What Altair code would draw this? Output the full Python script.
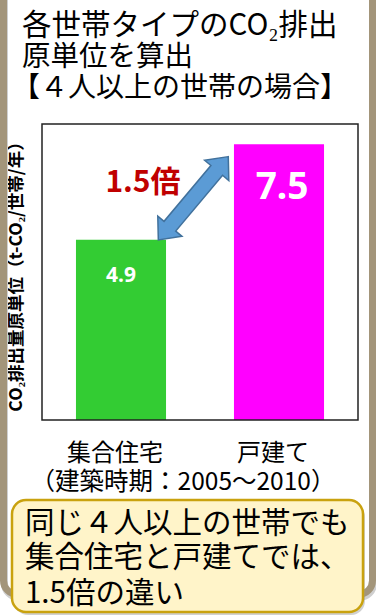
import altair as alt
import pandas as pd

# ---- data -------------------------------------------------------------
categories = ["集合住宅", "戸建て"]
values = [4.9, 7.5]
period_label = "（建築時期：2005～2010）"
title_lines = ["各世帯タイプのCO₂排出", "原単位を算出"]
subtitle_line = "【４人以上の世帯の場合】"
y_title = "CO₂排出量原単位（t-CO₂/世帯/年）"

ratio = values[1] / values[0]
ratio_label = f"{ratio:.1f}倍"
note_lines = ["同じ４人以上の世帯でも", "集合住宅と戸建てでは、", f"{ratio_label}の違い"]

# ---- styling ----------------------------------------------------------
W, H = 316, 296
FONT = "Noto Sans CJK JP"
BAR_COLORS = ["#33CC33", "#FF00FF"]
BEIGE = "#A3957A"
ARROW_PATH = ("M1,0 L0.67,-0.29 L0.67,-0.14 L-0.67,-0.14 L-0.67,-0.29 L-1,0 "
              "L-0.67,0.29 L-0.67,0.14 L0.67,0.14 L0.67,0.29 Z")

df = pd.DataFrame({"category": categories, "value": values})
df["label"] = [f"{v:.1f}" for v in values]

x_enc = alt.X(
    "category:N",
    sort=categories,
    scale=alt.Scale(paddingInner=0.43, paddingOuter=0.215),
    axis=alt.Axis(
        labelAngle=0, labelFont=FONT, labelFontSize=24, labelColor="#000",
        labelBaseline="alphabetic", labelPadding=40, labelOffset=-6,
        ticks=False, tickSize=0, domain=False, grid=False,
        title=period_label, titleFont=FONT, titleFontSize=24.5,
        titleFontWeight="normal", titleColor="#000",
        titleBaseline="alphabetic", titleAlign="center",
        titleX=140.5, titleY=69,
    ),
)
y_enc = alt.Y(
    "value:Q",
    scale=alt.Scale(domain=[0, 8.05], nice=False, zero=True),
    axis=alt.Axis(
        labels=False, ticks=False, domain=False, grid=False,
        title=y_title, titleFont=FONT, titleFontSize=17.5,
        titleFontWeight="bold", titleColor="#000", titlePadding=17,
    ),
)

base = alt.Chart(df)


def deco():
    return alt.Chart(pd.DataFrame({"d": [0]}))


def text_line(text, xv, yv, size, **kw):
    return deco().mark_text(
        text=text, align="left", baseline="alphabetic", font=FONT,
        fontSize=size, color="#000", **kw
    ).encode(x=alt.value(xv), y=alt.value(yv))


# outer rounded panel
panel_shadow = deco().mark_rect(
    fillOpacity=0, stroke="#cfcfcf", strokeWidth=7, cornerRadius=14
).encode(x=alt.value(-37.5), x2=alt.value(331.5), y=alt.value(-150), y2=alt.value(473.5))
panel = deco().mark_rect(
    fillOpacity=0, stroke=BEIGE, strokeWidth=7, cornerRadius=14
).encode(x=alt.value(-38.5), x2=alt.value(330.5), y=alt.value(-150), y2=alt.value(470.5))

bars = base.mark_bar().encode(
    x=x_enc,
    y=y_enc,
    color=alt.Color("category:N", sort=categories,
                    scale=alt.Scale(domain=categories, range=BAR_COLORS), legend=None),
)

plot_frame = deco().mark_rect(
    fillOpacity=0, stroke="#222", strokeWidth=1.5
).encode(x=alt.value(0), x2=alt.value(W), y=alt.value(0), y2=alt.value(H))

label_small = base.transform_filter(alt.datum.category == categories[0]).mark_text(
    font="Noto Sans", fontWeight="bold", fontSize=21, color="white",
    baseline="alphabetic", dy=42,
).encode(x=x_enc, y=y_enc, text="label:N")
label_big = base.transform_filter(alt.datum.category == categories[1]).mark_text(
    font="Noto Sans", fontWeight="bold", fontSize=37, color="white",
    baseline="alphabetic", dy=55, dx=3,
).encode(x=x_enc, y=y_enc, text="label:N")

arrow = deco().mark_point(
    shape=ARROW_PATH, size=11837, filled=True, fill="#5B9BD5",
    stroke="#41719C", strokeWidth=1.5, opacity=1, angle=310,
).encode(x=alt.value(151.3), y=alt.value(74.3))

ratio_text = deco().mark_text(
    text=ratio_label, align="center", baseline="alphabetic", font=FONT,
    fontSize=30, fontWeight="bold", color="#C00000",
).encode(x=alt.value(101), y=alt.value(68))

title1 = text_line(title_lines[0], -20, -89, 29.5)
title2 = text_line(title_lines[1], -20, -58, 28.5)
title3 = text_line(subtitle_line, -30, -27, 28)

# note box at the bottom
box_shadow = deco().mark_rect(
    fill="#9a9a9a", opacity=0.45, cornerRadius=14
).encode(x=alt.value(-28), x2=alt.value(323), y=alt.value(379), y2=alt.value(491))
box = deco().mark_rect(
    fill="#FFF4C9", stroke="#C9A20F", strokeWidth=2.5, cornerRadius=14
).encode(x=alt.value(-30), x2=alt.value(321), y=alt.value(376), y2=alt.value(488))
note1 = text_line(note_lines[0], -17, 409, 29.5)
note2 = text_line(note_lines[1], -17, 443, 29.5)
note3 = text_line(note_lines[2], -17, 479, 29.5)

chart = alt.layer(
    panel_shadow, panel, bars, plot_frame, label_small, label_big, arrow,
    ratio_text, title1, title2, title3, box_shadow, box, note1, note2, note3,
).properties(
    width=W,
    height=H,
    autosize=alt.AutoSizeParams(type="none"),
    padding={"left": 42, "top": 124, "right": 18, "bottom": 196},
    background="white",
).configure_view(strokeWidth=0)

chart.save("out.html", embed_options={"renderer": "svg", "actions": False})
